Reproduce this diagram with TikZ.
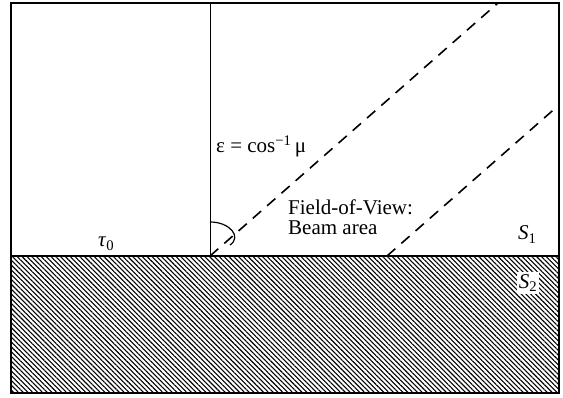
\documentclass[tikz,border=0pt]{standalone}
\usepackage{fontspec}
\setmainfont{Liberation Serif}
\usetikzlibrary{patterns.meta}
\begin{document}
\begin{tikzpicture}[
  x=1pt, y=1pt,
  lbl/.style={inner sep=0pt, font=\fontsize{21}{20}\selectfont},
  frame/.style={line width=1.6pt},
  hatch/.style={pattern={Lines[angle=-45, distance=3.4pt, line width=1.1pt]}},
  beam/.style={line width=1.6pt, dash pattern=on 11pt off 8pt}
]
\useasboundingbox (0,0) rectangle (563,398);
% ground (hatched half space)
\fill[hatch] (11,5) rectangle (559,142);
\draw[frame] (11,5) rectangle (559,395);
\draw[frame] (11,142) -- (559,142);
% zenith line and beam
\coordinate (o) at (210,142);
\coordinate (zen) at (210,395);
\coordinate (b1) at (498,395);
\coordinate (a2) at (387,142);
\coordinate (b2) at (559,293);
\draw[line width=0.8pt] (o) -- (zen);
\draw[beam] (o) -- (b1);
\draw[beam] (a2) -- (b2);
\draw[line width=1.2pt] (210,176) .. controls (230,176) and (242,161) .. (230,153);
% labels
\node[lbl, anchor=base west] (eps) at (216,245) {ε = cos\textsuperscript{−1}\,μ};
\node[lbl, anchor=north west, align=left] (fov) at (288,198) {Field-of-View:\\Beam area};
\node[lbl, anchor=base west] (tau) at (98,151) {\textit{τ}\textsubscript{0}};
\node[lbl, anchor=base west] (s1) at (518,158) {\textit{S}\textsubscript{1}};
\node[lbl, fill=white, inner sep=2pt] (s2) at (528,115) {\textit{S}\textsubscript{2}};
\end{tikzpicture}
\end{document}
